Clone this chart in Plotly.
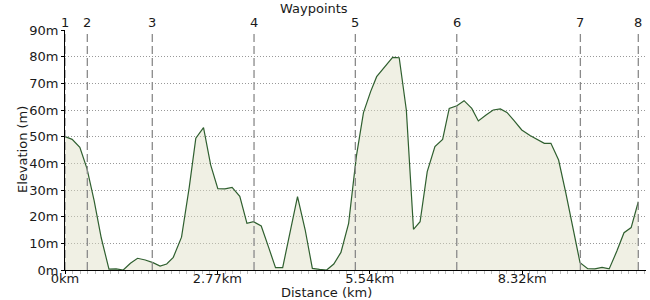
import plotly.graph_objects as go

# Elevation profile (distance in km, elevation in m)
distance_km = [0.00, 0.13, 0.27, 0.40, 0.53, 0.66, 0.80, 0.93, 1.06, 1.19,
               1.32, 1.46, 1.60, 1.73, 1.85, 1.97, 2.12, 2.26, 2.38, 2.52,
               2.65, 2.78, 2.91, 3.04, 3.18, 3.31, 3.43, 3.57, 3.70, 3.83,
               3.96, 4.09, 4.23, 4.37, 4.50, 4.63, 4.76, 4.89, 5.02, 5.16,
               5.30, 5.43, 5.56, 5.67, 5.81, 5.96, 6.08, 6.21, 6.34, 6.46,
               6.59, 6.73, 6.87, 6.99, 7.13, 7.26, 7.40, 7.52, 7.66, 7.79,
               7.92, 8.04, 8.17, 8.31, 8.46, 8.58, 8.72, 8.84, 8.98, 9.11,
               9.24, 9.37, 9.51, 9.64, 9.77, 9.90, 10.04, 10.17, 10.30, 10.43]
elevation_m = [50, 49, 46, 38, 26, 12, 0.3, 0.4, 0, 2.5,
               4.4, 3.75, 2.75, 1.5, 2.25, 4.75, 12.3, 31, 49.4, 53.4,
               39.4, 30.5, 30.4, 31, 27.6, 17.5, 18.1, 16.5, 8.75, 0.9,
               0.9, 13.75, 27.5, 15, 0.6, 0.25, 0, 2.25, 6.6, 17.5,
               42.5, 59, 66.9, 72.5, 76.2, 79.75, 79.6, 60, 15.25, 18.1,
               36.9, 46.25, 49, 60.6, 61.6, 63.5, 60.6, 55.9, 58.1, 60,
               60.4, 59.1, 56, 52.5, 50.4, 49.1, 47.5, 47.5, 41.25, 29,
               16.25, 2.75, 0.5, 0.4, 1, 0.4, 7.1, 14, 15.9, 25.6]

# Waypoints
waypoint_labels = ["1", "2", "3", "4", "5", "6", "7", "8"]
waypoint_km = [0.0, 0.406, 1.588, 3.439, 5.282, 7.127, 9.376, 10.43]

# Axes
x_tick_vals = [0, 2.7725, 5.545, 8.3175]
x_tick_text = ["0km", "2.77km", "5.54km", "8.32km"]
y_tick_vals = [0, 10, 20, 30, 40, 50, 60, 70, 80, 90]
y_tick_text = ["0m", "10m", "20m", "30m", "40m", "50m", "60m", "70m", "80m", "90m"]
x_max = 10.57
y_max = 90

FONT = "DejaVu Sans"
TXT = "#1a1a1a"

fig = go.Figure()
fig.add_trace(go.Scatter(
    x=distance_km, y=elevation_m, mode="lines",
    line=dict(color="#2f5f2f", width=1.2),
    fill="tozeroy", fillcolor="rgba(222,222,196,0.45)",
    hoverinfo="skip", showlegend=False,
))

shapes = []
annotations = []
for lab, km in zip(waypoint_labels, waypoint_km):
    shapes.append(dict(type="line", xref="x", yref="y", x0=km, x1=km, y0=0, y1=y_max,
                       line=dict(color="#8a8a8a", width=1.3, dash="8px,4px"), layer="above"))
    annotations.append(dict(xref="x", yref="y", x=km, y=y_max, text=lab, showarrow=False,
                            yanchor="bottom", xanchor="center", yshift=-2,
                            font=dict(family=FONT, size=13, color=TXT)))

annotations.append(dict(xref="paper", yref="paper", x=(314 - 65) / (646 - 65), y=1,
                        yshift=22, text="Waypoints", showarrow=False,
                        xanchor="center", yanchor="middle",
                        font=dict(family=FONT, size=13, color=TXT)))
annotations.append(dict(xref="paper", yref="paper", x=(326 - 65) / (646 - 65), y=0,
                        yshift=-22, text="Distance (km)", showarrow=False,
                        xanchor="center", yanchor="middle",
                        font=dict(family=FONT, size=13, color=TXT)))
annotations.append(dict(xref="paper", yref="paper", x=0, y=0.5, xshift=-43,
                        text="Elevation (m)", showarrow=False, textangle=-90,
                        xanchor="center", yanchor="middle",
                        font=dict(family=FONT, size=13, color=TXT)))

fig.update_layout(
    width=650, height=300,
    margin=dict(l=65, r=4, t=30, b=30),
    paper_bgcolor="white", plot_bgcolor="white",
    shapes=shapes, annotations=annotations,
    font=dict(family=FONT, size=13, color=TXT),
    xaxis=dict(range=[0, x_max], tickmode="array", tickvals=x_tick_vals, ticktext=x_tick_text,
               showgrid=False, zeroline=False, showline=True, linecolor="black",
               linewidth=1, ticks="outside", ticklen=3, tickcolor="black",
               ticklabelstandoff=-7,
               minor=dict(dtick=2.7725 / 20, tick0=0, ticks="outside", ticklen=3,
                          tickcolor="#bbbbbb", showgrid=False),
               tickfont=dict(family=FONT, size=13, color=TXT), fixedrange=True),
    yaxis=dict(range=[0, y_max], tickmode="array", tickvals=y_tick_vals, ticktext=y_tick_text,
               showgrid=True, gridcolor="#999999", griddash="1px,2px", gridwidth=1,
               zeroline=False, showline=True, linecolor="black", linewidth=1,
               ticks="outside", ticklen=3, tickcolor="black",
               tickfont=dict(family=FONT, size=13, color=TXT), fixedrange=True),
)

fig.write_html("out.html")
